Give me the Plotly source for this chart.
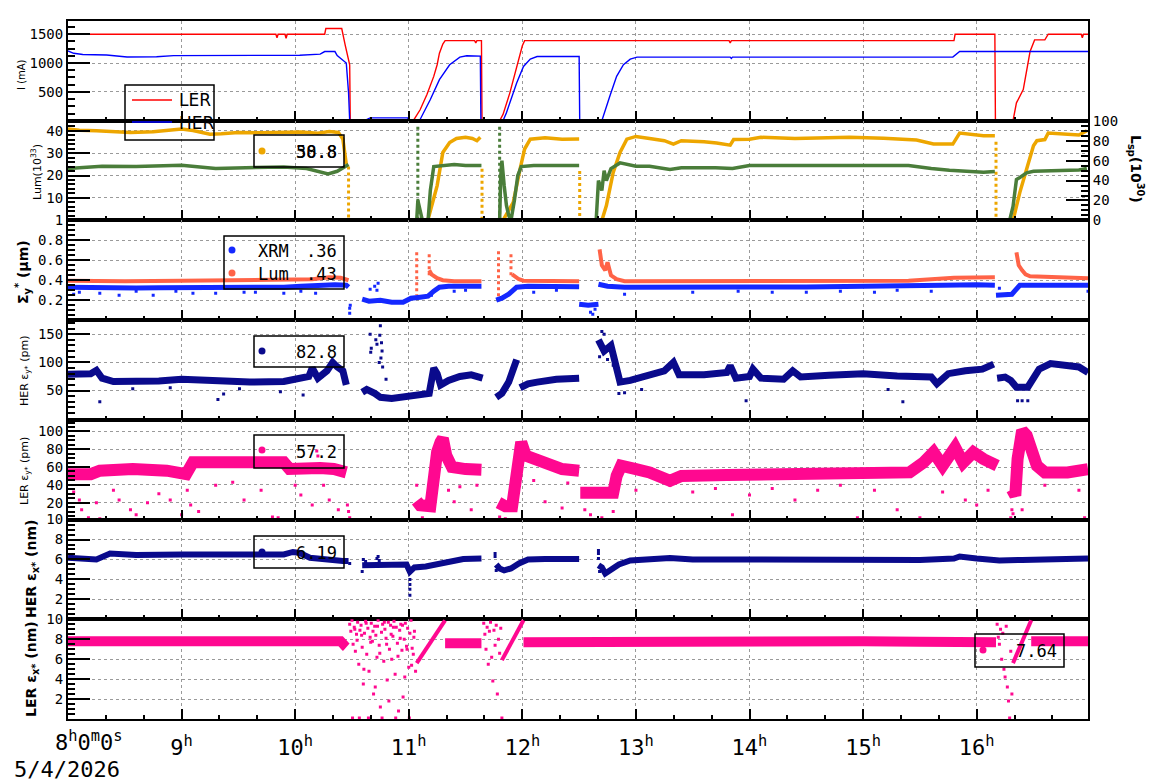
import plotly.graph_objects as go
from plotly.subplots import make_subplots

N = None

# ---------------- Panel 1 : beam currents (mA)
ler_t = [8.00, 9.83, 9.84, 9.85, 9.91, 9.92, 9.93, 10.26, 10.27, 10.41, 10.44, 10.47, 10.48, 10.485,
         11.04, 11.10, 11.16, 11.22, 11.25, 11.27, 11.30, 11.32, 11.58, 11.59, 11.60, 11.64, 11.645,
         11.80, 11.83, 11.89, 11.93, 11.98, 12.00, 12.02, 13.82, 13.83, 13.84, 15.80, 15.81, 16.16, 16.165,
         16.32, 16.35, 16.41, 16.44, 16.47, 16.51, 16.60, 16.63, 16.92, 16.93, 16.94, 16.98]
ler_i = [1500, 1500, 1440, 1500, 1500, 1430, 1500, 1500, 1600, 1600, 1315, 1086, 970, 0,
         0, 190, 453, 769, 971, 1172, 1330, 1390, 1390, 1350, 1390, 1390, 0,
         0, 109, 483, 769, 1172, 1300, 1390, 1390, 1350, 1390, 1390, 1500, 1500, 0,
         0, 310, 540, 884, 1200, 1402, 1402, 1500, 1500, 1440, 1500, 1500]
her_t = [8.00, 8.05, 8.13, 8.34, 8.52, 8.78, 8.93, 9.63, 10.04, 10.22, 10.26, 10.35, 10.37, 10.45, 10.47, 10.48,
         10.61, 10.66, 10.99, 11.00, 11.10, 11.19, 11.27, 11.36, 11.45, 11.51, 11.60, 11.63, 11.635,
         11.83, 11.86, 11.95, 12.01, 12.07, 12.13, 12.50, 12.505, 12.70, 12.77, 12.83, 12.89, 12.95, 13.01,
         13.83, 13.84, 13.85, 15.79, 15.85, 16.98]
her_i = [1210, 1170, 1150, 1140, 1105, 1110, 1130, 1130, 1135, 1155, 1200, 1200, 1130, 1000, 483, 0,
         0, 50, 50, 0, 22, 367, 712, 971, 1103, 1126, 1114, 1120, 0,
         0, 138, 655, 941, 1069, 1114, 1114, 0, 0, 424, 769, 971, 1069, 1103,
         1103, 1080, 1103, 1103, 1200, 1200]

# ---------------- Panel 2 : luminosity (left, 1e33) and specific luminosity (right, 1e30)
lum_t = [8.00, 8.10, 8.25, 8.40, 8.55, 8.75, 8.90, 9.00, 9.10, 9.25, 9.35, 9.50, 9.70, 9.90, 10.05, 10.20,
         10.30, 10.38, 10.42, 10.45, N,
         11.15, 11.17, 11.21, 11.25, 11.30, 11.36, 11.42, 11.50, 11.56, 11.60, 11.63, N,
         11.83, 11.86, 11.92, 11.98, 12.02, 12.07, 12.20, 12.35, 12.50, N,
         12.70, 12.74, 12.80, 12.86, 12.92, 13.00, 13.12, 13.25, 13.33, 13.40, 13.60, 13.71, 13.83, 13.86,
         14.00, 14.10, 14.40, 14.70, 14.88, 15.18, 15.47, 15.62, 15.79, 15.85, 16.06, 16.16, N,
         16.32, 16.38, 16.44, 16.50, 16.53, 16.60, 16.63, 16.75, 16.90, 16.97]
lum_v = [40.7, 40.2, 39.9, 39.5, 39.2, 39.5, 40.2, 40.7, 40.0, 38.4, 38.6, 39.2, 39.0, 39.2, 39.4, 38.8,
         39.6, 39.2, 36.2, 25.0, N,
         0.0, 0.5, 8.0, 15.5, 30.3, 34.7, 36.5, 37.0, 36.5, 35.5, 37.0, N,
         0.0, 2.5, 8.1, 22.9, 31.8, 36.2, 36.8, 36.2, 36.3, N,
         0.0, 6.6, 21.4, 30.3, 36.2, 37.4, 36.5, 35.5, 34.0, 35.5, 35.0, 34.5, 33.5, 36.0,
         36.2, 37.0, 36.5, 37.0, 37.0, 36.6, 35.8, 34.0, 34.0, 38.9, 37.7, 37.7, N,
         0.0, 12.5, 22.9, 33.2, 35.5, 36.0, 38.9, 38.4, 38.0, 39.9]
lum_drop_t = [10.47, 10.47, N, 11.645, 11.645, N, 12.505, 12.505, N, 16.17, 16.17]
lum_drop_v = [24, 0, N, 23, 0, N, 22, 0, N, 35, 0]

lsp_t = [8.00, 8.15, 8.30, 8.60, 9.00, 9.30, 9.60, 9.90, 10.10, 10.20, 10.29, 10.37, 10.43, 10.47, N, 10.48,
         11.07, 11.08, 11.10, 11.12, 11.17, 11.19, 11.22, 11.30, 11.40, 11.50, 11.64, N, 11.645,
         11.80, 11.81, 11.82, 11.84, 11.86, 11.88, 11.90, 11.93, 11.96, 11.99, 12.10, 12.30, 12.50, N, 12.505,
         12.65, 12.67, 12.70, 12.72, 12.74, 12.78, 12.86, 13.00, 13.12, 13.30, 13.40, 13.70, 13.85,
         14.00, 14.50, 15.00, 15.40, 15.60, 15.76, 16.06, 16.16, N, 16.165,
         16.29, 16.32, 16.35, 16.38, 16.44, 16.50, 16.70, 16.90, 16.97]
lsp_v = [52, 53.5, 54.3, 54, 55.3, 52, 53, 53.7, 52, 49.3, 46.7, 49.3, 53, 56, N, 0,
         0, 20, 8, 0, 0, 30, 54, 55, 56, 55, 55, N, 0,
         0, 45, 60, 35, 15, 5, 0, 20, 45, 54, 55, 55, 55, N, 0,
         0, 40, 30, 50, 40, 52, 57.7, 54.3, 54.3, 51, 52.7, 52.7, 52,
         55, 55, 55, 55, 52, 50.3, 48.3, 49, N, 0,
         0, 14, 41, 43, 47.7, 49.3, 50, 50.5, 52]
lsp_spike_t = [11.08, 11.08, N, 11.80, 11.80]
lsp_spike_v = [94, 0, N, 94, 0]

# ---------------- Panel 3 : vertical beam size (um)
xrm_t = [8.00, 8.20, 8.40, 8.60, 8.80, 9.00, 9.30, 9.60, 9.90, 10.05, 10.20, 10.35, 10.45, 10.47, N,
         10.59, 10.65, 10.75, 10.85, 10.95, 10.99, 11.02, 11.10, 11.17, 11.22, 11.27, 11.35, 11.50, 11.64, N,
         11.77, 11.82, 11.88, 11.95, 12.05, 12.30, 12.50, N,
         12.50, 12.58, 12.67, N,
         12.67, 12.75, 12.90, 13.20, 13.60, 14.00, 14.50, 15.00, 15.50, 15.70, 16.00, 16.16, N,
         16.17, 16.25, 16.31, 16.38, 16.60, 16.80, 16.98]
xrm_v = [0.33, 0.325, 0.32, 0.322, 0.325, 0.325, 0.322, 0.325, 0.33, 0.34, 0.35, 0.355, 0.35, 0.33, N,
         0.21, 0.19, 0.20, 0.18, 0.18, 0.20, 0.22, 0.23, 0.24, 0.29, 0.33, 0.34, 0.335, 0.34, N,
         0.20, 0.22, 0.26, 0.33, 0.34, 0.335, 0.335, N,
         0.16, 0.15, 0.16, N,
         0.36, 0.34, 0.33, 0.333, 0.333, 0.333, 0.333, 0.335, 0.34, 0.35, 0.355, 0.35, N,
         0.25, 0.25, 0.26, 0.35, 0.355, 0.35, 0.35]
xrm_out_t = [8.05, 8.10, 8.28, 8.45, 8.60, 8.75, 8.95, 9.10, 9.30, 9.55, 9.65, 9.90, 10.05, 10.18, 10.48,
             10.48, 10.485, 10.66, 10.70, 10.73, 10.72, 11.20, 11.40, 11.50, 12.10, 12.30, 12.60, 12.62,
             12.64, 12.90, 13.50, 13.90, 14.20, 14.50, 14.80, 15.10, 15.30, 15.60, 16.20, 16.98]
xrm_out_v = [0.26, 0.28, 0.27, 0.25, 0.29, 0.25, 0.29, 0.27, 0.27, 0.28, 0.28, 0.27, 0.29, 0.27, 0.12,
             0.07, 0.15, 0.31, 0.34, 0.37, 0.30, 0.25, 0.29, 0.30, 0.28, 0.30, 0.08, 0.06,
             0.11, 0.26, 0.28, 0.29, 0.28, 0.28, 0.29, 0.28, 0.30, 0.29, 0.32, 0.29]
lsz_t = [8.00, 8.50, 9.00, 9.50, 10.00, 10.15, 10.30, 10.40, 10.47, N,
         11.18, 11.20, 11.25, 11.30, 11.40, 11.50, 11.64, N,
         11.91, 11.94, 11.97, 12.01, 12.20, 12.50, N,
         12.68, 12.70, 12.73, 12.75, 12.78, 12.83, 12.90, 13.50, 14.50, 15.40, 15.60, 15.80, 16.16, N,
         16.35, 16.37, 16.40, 16.43, 16.47, 16.70, 16.98]
lsz_v = [0.395, 0.39, 0.395, 0.40, 0.40, 0.41, 0.43, 0.425, 0.40, N,
         0.50, 0.46, 0.42, 0.40, 0.39, 0.39, 0.39, N,
         0.46, 0.43, 0.41, 0.395, 0.39, 0.39, N,
         0.71, 0.55, 0.50, 0.58, 0.45, 0.41, 0.39, 0.39, 0.39, 0.395, 0.41, 0.425, 0.43, N,
         0.68, 0.55, 0.50, 0.46, 0.44, 0.435, 0.42]
lsz_spike_t = [11.07, 11.07, N, 11.18, 11.18, N, 11.79, 11.79, N, 11.90, 11.90]
lsz_spike_v = [0.68, 0.25, N, 0.66, 0.45, N, 0.69, 0.19, N, 0.66, 0.45]

# ---------------- Panel 4 : HER vertical emittance (pm)
hey_t = [8.00, 8.10, 8.20, 8.25, 8.30, 8.40, 8.60, 8.80, 9.00, 9.30, 9.60, 9.90, 10.05, 10.12, 10.15, 10.20,
         10.28, 10.33, 10.37, 10.42, 10.45, N,
         10.59, 10.63, 10.70, 10.75, 10.85, 10.95, 11.00, 11.10, 11.18, 11.22, 11.25, 11.28, 11.35, 11.45,
         11.55, 11.65, N,
         11.77, 11.82, 11.88, 11.93, 11.95, N, 11.98, 12.05, 12.13, 12.30, 12.50, N,
         12.67, 12.72, 12.78, 12.82, 12.86, 12.95, 13.10, 13.25, 13.33, 13.38, 13.60, 13.80, 13.83, 13.88,
         14.00, 14.03, 14.10, 14.30, 14.38, 14.45, 14.70, 15.00, 15.30, 15.60, 15.65, 15.75, 15.90, 16.05,
         16.15, N,
         16.18, 16.25, 16.30, 16.35, 16.45, 16.50, 16.55, 16.65, 16.80, 16.90, 16.98]
hey_v = [79, 78, 80, 86, 72, 66, 66, 67, 70, 66, 65, 66, 70, 75, 90, 72,
         85, 100, 92, 85, 60, N,
         47, 52, 45, 38, 36, 38, 40, 42, 45, 90, 80, 60, 68, 75,
         78, 72, N,
         38, 45, 65, 90, 105, N, 55, 62, 65, 70, 72, N,
         140, 120, 130, 90, 65, 68, 75, 85, 100, 78, 78, 82, 94, 72,
         75, 88, 72, 70, 85, 74, 77, 80, 76, 74, 62, 80, 85, 88,
         97, N,
         72, 74, 68, 56, 56, 70, 88, 98, 95, 92, 82]
hey_out_t = [8.28, 8.57, 8.90, 9.32, 9.37, 9.51, 9.87, 10.07, 10.66, 10.67, 10.665, 10.71, 10.72, 10.75,
             10.745, 10.76, 10.765, 10.755, 10.77, 10.74, 10.80, 12.70, 12.72, 12.75, 12.68, 12.80, 12.85,
             12.90, 13.05, 13.97, 15.22, 15.35, 16.36, 16.40, 16.45]
hey_out_v = [30, 53, 55, 34, 44, 53, 48, 42, 150, 125, 118, 140, 132, 165,
             148, 135, 120, 108, 92, 100, 70, 155, 150, 105, 110, 95, 45,
             46, 52, 32, 52, 30, 32, 32, 32]

# ---------------- Panel 5 : LER vertical emittance (pm)
ley_t = [8.00, 8.20, 8.28, 8.57, 8.87, 9.04, 9.10, 9.31, 9.60, 9.90, 9.95, 10.10, 10.19, 10.22, 10.34, 10.45, N,
         11.07, 11.10, 11.19, 11.21, 11.25, 11.28, 11.30, 11.33, 11.38, 11.50, 11.64, N,
         11.79, 11.85, 11.91, 11.93, 11.96, 11.99, 12.03, 12.15, 12.35, 12.50, N,
         12.51, 12.65, 12.80, 12.83, 12.87, 13.00, 13.12, 13.30, 13.40, 13.80, 14.20, 14.60, 15.00, 15.41,
         15.53, 15.62, 15.70, 15.81, 15.88, 15.97, 16.06, 16.18, N,
         16.31, 16.34, 16.36, 16.40, 16.44, 16.48, 16.53, 16.60, 16.80, 16.98]
ley_v = [52, 52, 55.9, 57.8, 55.9, 52, 65.3, 65.3, 63.4, 65.3, 57.8, 59, 61.5, 59, 57.8, 54, N,
         22, 17, 16, 39, 77, 88, 92, 73, 60, 57.7, 57, N,
         20, 16, 16, 31, 65, 88, 72.8, 67, 57.7, 55.8, N,
         31, 31, 31, 50, 61.5, 57.7, 54, 44.5, 50, 51, 51, 52, 52, 54,
         65, 76.7, 61.5, 82, 65, 76.7, 69, 61.5, N,
         35, 28, 69, 101, 95.5, 76.7, 61.5, 54, 54, 57.7]
ley_out_t = [8.05, 8.10, 8.12, 8.18, 8.25, 8.28, 8.40, 8.45, 8.55, 8.60,
             8.70, 8.80, 8.90, 9.00, 9.05, 9.08, 9.15, 9.30, 9.45, 9.55,
             9.70, 9.80, 9.85, 10.00, 10.05, 10.15, 10.19, 10.20, 10.25, 10.30,
             10.38, 10.46, 10.47, 10.48,
             11.07, 11.12, 11.20, 11.35, 11.40, 11.45, 11.55, 11.60, 11.80, 11.85,
             12.10, 12.20, 12.35, 12.40, 12.55, 12.60, 12.70, 12.80, 13.00, 13.30,
             13.50, 13.70, 13.85, 14.00, 14.20, 14.40, 14.60, 14.80, 14.95, 15.10,
             15.30, 15.50, 15.70, 15.90, 16.00, 16.10, 16.30, 16.31, 16.32, 16.40,
             16.60, 16.90, 16.95]
ley_out_v = [32, 23, 12, 3, 20, 2, 34, 23, 12, 6.5,
             20, 30, 23, 6.5, 34, 17.5, 10, 39.5, 43, 23,
             34, 4, 3, 39.5, 28.5, 17.5, 78, 72.5, 39.5, 23,
             12, 17.5, 10, 3,
             39.5, 3, 28.5, 34, 21, 38, 12, 39.5, 4, 2,
             45, 21, 14, 42, 12, 6.5, 3, 10, 34, 39.5,
             32, 36, 6.5, 28.5, 36, 23, 34, 39.5, 3, 34,
             12, 3, 32, 23, 17.5, 34, 3, 12, 7.5, 12,
             39.5, 34, 3]

# ---------------- Panel 6 : HER horizontal emittance (nm)
hex_t = [8.00, 8.25, 8.37, 8.60, 9.00, 9.16, 9.50, 9.90, 9.98, 10.04, 10.13, 10.25, 10.42, 10.47, N,
         10.59, 10.75, 10.90, 10.98, 11.01, 11.05, 11.15, 11.25, 11.35, 11.48, 11.64, N,
         11.77, 11.80, 11.84, 11.90, 11.97, 12.05, 12.20, 12.50, N,
         12.67, 12.70, 12.73, 12.78, 12.85, 12.95, 13.10, 13.30, 13.50, 14.00, 14.50, 15.00, 15.50, 15.80,
         15.85, 16.00, 16.20, 16.40, 16.60, 16.80, 16.98]
hex_v = [6.17, 6.0, 6.6, 6.45, 6.5, 6.5, 6.5, 6.5, 6.75, 6.65, 6.17, 6.0, 5.85, 5.85, N,
         5.43, 5.4, 5.45, 5.5, 4.77, 5.2, 5.3, 5.5, 5.8, 6.05, 6.1, N,
         5.5, 5.1, 4.9, 5.1, 5.6, 6.0, 6.05, 6.05, N,
         5.43, 5.2, 4.6, 5.0, 5.5, 5.9, 6.05, 6.15, 6.0, 5.95, 5.95, 5.95, 5.95, 6.1,
         6.3, 6.1, 5.9, 5.95, 6.05, 6.0, 6.1]
hex_out_t = [10.48, 10.59, 10.60, 10.62, 10.72, 10.73, 10.74, 11.01, 11.01, 11.01, 11.01, 11.76, 11.76,
             11.77, 12.67, 12.67, 12.67, 12.68]
hex_out_v = [5.6, 4.8, 6.0, 5.8, 6.1, 6.3, 5.9, 4.0, 3.5, 2.4, 3.0, 6.6, 6.3,
             4.9, 6.6, 6.9, 6.1, 4.8]

# ---------------- Panel 7 : LER horizontal emittance (nm)
lex_t = [8.00, 8.50, 9.00, 9.50, 10.00, 10.40, 10.44, 10.45, N,
         11.32, 11.45, 11.64, N,
         12.01, 12.50, 13.00, 13.50, 14.00, 14.50, 15.00, 15.50, 16.00, 16.17, N,
         16.48, 16.70, 16.98]
lex_v = [7.8, 7.85, 7.8, 7.8, 7.85, 7.8, 7.3, 7.2, N,
         7.6, 7.6, 7.6, N,
         7.7, 7.75, 7.75, 7.8, 7.75, 7.75, 7.8, 7.75, 7.8, 7.7, N,
         7.8, 7.75, 7.8]
lex_ramp_t = [11.07, 11.32, N, 11.82, 12.01, N, 16.32, 16.48]
lex_ramp_v = [5.6, 9.9, N, 5.9, 9.9, N, 5.6, 9.9]
lex_sc_t = [10.48, 10.49, 10.50, 10.51, 10.52, 10.53, 10.54, 10.55, 10.56, 10.57,
            10.58, 10.59, 10.60, 10.61, 10.62, 10.63, 10.64, 10.65, 10.66, 10.67,
            10.68, 10.69, 10.70, 10.71, 10.72, 10.73, 10.74, 10.75, 10.76, 10.77,
            10.78, 10.79, 10.80, 10.81, 10.82, 10.83, 10.84, 10.85, 10.86, 10.87,
            10.88, 10.89, 10.90, 10.91, 10.92, 10.93, 10.94, 10.95, 10.96, 10.97,
            10.98, 10.99, 11.00, 11.01, 11.02, 11.03, 11.04, 11.05, 11.06, 10.505,
            10.525, 10.545, 10.565, 10.585, 10.605, 10.625, 10.645, 10.665, 10.685, 10.705,
            10.725, 10.745, 10.765, 10.785, 10.805, 10.825, 10.845, 10.865, 10.885, 10.905,
            10.925, 10.945, 10.965, 10.985, 11.005, 11.025, 11.045,
            11.66, 11.67, 11.68, 11.69, 11.70, 11.71, 11.72, 11.73, 11.74, 11.75,
            11.76, 11.77, 11.78, 11.79, 11.80, 11.81, 11.82,
            16.18, 16.19, 16.20, 16.21, 16.22, 16.23, 16.24, 16.25, 16.26, 16.27,
            16.28, 16.29, 16.30, 16.31]
lex_sc_v = [9.5, 8.8, 9.9, 7.5, 9.2, 6.8, 8.5, 9.7, 5.5, 8.9,
            9.4, 7.2, 3.5, 8.6, 9.8, 6.5, 9.1, 4.8, 8.2, 9.6,
            7.8, 2.5, 9.3, 8.4, 6.2, 9.9, 7.4, 1.2, 8.7, 9.5,
            5.8, 9.0, 8.1, 3.9, 9.7, 7.0, 9.4, 6.0, 8.3, 9.8,
            4.5, 9.2, 7.6, 0.8, 8.9, 9.5, 6.9, 2.2, 8.0, 9.6,
            7.3, 9.1, 5.2, 8.6, 9.9, 7.1, 6.5, 8.8, 4.8, 0.1,
            9.0, 7.9, 0.1, 8.4, 5.0, 9.6, 0.1, 7.7, 8.8, 3.2,
            9.3, 6.6, 0.1, 9.7, 7.5, 1.8, 8.5, 9.2, 0.1, 6.3,
            8.1, 9.4, 4.2, 7.0, 0.1, 5.4, 8.2,
            9.6, 8.5, 7.0, 9.2, 5.5, 8.8, 9.7, 6.2, 3.8, 8.9,
            7.4, 9.4, 2.5, 8.0, 6.6, 9.1, 0.1,
            9.5, 8.2, 7.5, 9.0, 6.0, 8.6, 5.0, 4.2, 9.3, 3.2,
            1.8, 0.1, 6.8, 2.5]

# ---------------- axis ticks / labels
hour_ticks = [8, 9, 10, 11, 12, 13, 14, 15, 16]
hour_text = ["", "9<sup>h</sup>", "10<sup>h</sup>", "11<sup>h</sup>", "12<sup>h</sup>",
             "13<sup>h</sup>", "14<sup>h</sup>", "15<sup>h</sup>", "16<sup>h</sup>"]
start_label = "8<sup>h</sup>0<sup>m</sup>0<sup>s</sup>"
date_label = "5/4/2026"
legend_values = {"lum": ["38.8", "50.8"], "xrm": ".36", "lumsz": ".43",
                 "hey": "82.8", "ley": "57.2", "hex": "6.19", "lex": "7.64"}

for a, b in [(ler_t, ler_i), (her_t, her_i), (lum_t, lum_v), (lsp_t, lsp_v), (xrm_t, xrm_v),
             (xrm_out_t, xrm_out_v), (lsz_t, lsz_v), (hey_t, hey_v), (hey_out_t, hey_out_v),
             (ley_t, ley_v), (ley_out_t, ley_out_v), (hex_t, hex_v), (hex_out_t, hex_out_v),
             (lex_t, lex_v), (lex_sc_t, lex_sc_v)]:
    assert len(a) == len(b), (len(a), len(b), a[:3])

# ---------------- colours
RED, BLUE = "#ff0000", "#0000ff"
ORANGE, GREEN = "#eda600", "#4a7d3a"
XBLUE, TOMATO = "#1428ff", "#ff6347"
NAVY, PINK = "#0a0a8c", "#ff0890"
MONO = "DejaVu Sans Mono"

W, H = 1160, 782
PL, PR, PT, PB = 68, 1088, 21, 719


def xp(px):
    return (px - PL) / (PR - PL)


def yp(py):
    return (PB - py) / (PB - PT)


fig = make_subplots(rows=7, cols=1, shared_xaxes=True, vertical_spacing=0,
                    specs=[[{}], [{"secondary_y": True}], [{}], [{}], [{}], [{}], [{}]])


def add_line(t, v, color, width, row, dash=None, sec=None):
    tr = go.Scatter(x=t, y=v, mode="lines", connectgaps=False, showlegend=False, hoverinfo="skip",
                    line=dict(color=color, width=width, dash=dash))
    if sec is None:
        fig.add_trace(tr, row=row, col=1)
    else:
        fig.add_trace(tr, row=row, col=1, secondary_y=sec)


def add_dots(t, v, color, row, size=3):
    fig.add_trace(go.Scatter(x=t, y=v, mode="markers", showlegend=False, hoverinfo="skip",
                             marker=dict(color=color, size=size, symbol="square", line=dict(width=0))),
                  row=row, col=1)


# panel 1
add_line(ler_t, ler_i, RED, 1.4, 1)
add_line(her_t, her_i, BLUE, 1.4, 1)
# panel 2
add_line(lsp_t, lsp_v, GREEN, 3.5, 2, sec=True)
add_line(lsp_spike_t, lsp_spike_v, GREEN, 3, 2, dash="dot", sec=True)
add_line(lum_t, lum_v, ORANGE, 3.5, 2, sec=False)
add_line(lum_drop_t, lum_drop_v, ORANGE, 3, 2, dash="dot", sec=False)
# panel 3
add_line(lsz_t, lsz_v, TOMATO, 4, 3)
add_line(lsz_spike_t, lsz_spike_v, TOMATO, 3, 3, dash="dot")
add_line(xrm_t, xrm_v, XBLUE, 5, 3)
add_dots(xrm_out_t, xrm_out_v, XBLUE, 3)
# panel 4
add_line(hey_t, hey_v, NAVY, 7, 4)
add_dots(hey_out_t, hey_out_v, NAVY, 4)
# panel 5
add_line(ley_t, ley_v, PINK, 12, 5)
add_dots(ley_out_t, ley_out_v, PINK, 5)
# panel 6
add_line(hex_t, hex_v, NAVY, 6, 6)
add_dots(hex_out_t, hex_out_v, NAVY, 6)
# panel 7
add_line(lex_t, lex_v, PINK, 10, 7)
add_line(lex_ramp_t, lex_ramp_v, PINK, 4, 7)
add_dots(lex_sc_t, lex_sc_v, PINK, 7)

# ---------------- axes
minor_x = [8 + i / 3 for i in range(27) if i % 3 != 0]
grid = dict(showgrid=True, gridcolor="#9a9a9a", griddash="dot", gridwidth=1)
for r in range(1, 8):
    fig.update_xaxes(row=r, col=1, domain=[0, 1], range=[8, 16.98], showline=True, linecolor="black",
                     linewidth=2, mirror=True, ticks="inside", ticklen=10, tickwidth=2, tickcolor="black",
                     tickmode="array", tickvals=hour_ticks, ticktext=hour_text, zeroline=False,
                     minor=dict(tickmode="array", tickvals=minor_x, ticks="inside", ticklen=4,
                                tickwidth=1.5, tickcolor="black", showgrid=False),
                     showticklabels=(r == 7), tickfont=dict(family=MONO, size=22, color="black"),
                     ticklabelstandoff=8, **grid)

yconf = [
    dict(range=[0, 1730], tickvals=[500, 1000, 1500], ticktext=["500", "1000", "1500"], minor=125),
    dict(range=[0, 44.4], tickvals=[10, 20, 30, 40], ticktext=["10", "20", "30", "40"], minor=2),
    dict(range=[0, 1], tickvals=[0.2, 0.4, 0.6, 0.8, 1.0], ticktext=["0.2", "0.4", "0.6", "0.8", "1"], minor=0.05),
    dict(range=[-2, 175], tickvals=[50, 100, 150], ticktext=["50", "100", "150"], minor=10),
    dict(range=[1, 113], tickvals=[20, 40, 60, 80, 100], ticktext=["20", "40", "60", "80", "100"], minor=5),
    dict(range=[0, 10], tickvals=[2, 4, 6, 8, 10], ticktext=["2", "4", "6", "8", "10"], minor=0.5),
    dict(range=[0, 10], tickvals=[2, 4, 6, 8, 10], ticktext=["2", "4", "6", "8", "10"], minor=0.5),
]
for r, c in enumerate(yconf, start=1):
    kw = dict(row=r, col=1, range=c["range"], tickmode="array", tickvals=c["tickvals"],
              ticktext=c["ticktext"], showline=True, linecolor="black", linewidth=2,
              mirror=(r != 2), ticks="inside", ticklen=22, tickwidth=2, tickcolor="black",
              zeroline=False, tickfont=dict(family=MONO, size=14, color="black"),
              minor=dict(dtick=c["minor"], tick0=0, ticks="inside", ticklen=7, tickwidth=1.5,
                         tickcolor="black", showgrid=False), **grid)
    if r == 2:
        fig.update_yaxes(secondary_y=False, **kw)
    else:
        fig.update_yaxes(**kw)

fig.update_yaxes(row=2, col=1, secondary_y=True, range=[0, 100], tickmode="array",
                 tickvals=[0, 20, 40, 60, 80, 100], ticktext=["0", "20", "40", "60", "80", "100"],
                 showline=True, linecolor="black", linewidth=2, ticks="inside", ticklen=22,
                 tickwidth=2, tickcolor="black", showgrid=False, zeroline=False,
                 tickfont=dict(family=MONO, size=14, color="black"),
                 minor=dict(dtick=5, tick0=0, ticks="inside", ticklen=7, tickwidth=1.5,
                            tickcolor="black", showgrid=False))

# ---------------- annotations (axis titles, legends, time labels)
ann = []
shapes = []


def text(px, py, s, size, xanchor="center", yanchor="middle", angle=0, family="DejaVu Sans", color="black"):
    ann.append(dict(x=xp(px), y=yp(py), xref="paper", yref="paper", text=s, showarrow=False,
                    xanchor=xanchor, yanchor=yanchor, textangle=angle,
                    font=dict(family=family, size=size, color=color)))


def box(x0, y0, x1, y1):
    shapes.append(dict(type="rect", xref="paper", yref="paper", x0=xp(x0), x1=xp(x1), y0=yp(y0),
                       y1=yp(y1), line=dict(color="black", width=1.5), fillcolor="rgba(0,0,0,0)"))


def dot(px, py, color, r=3.5):
    shapes.append(dict(type="circle", xref="paper", yref="paper", x0=xp(px - r), x1=xp(px + r),
                       y0=yp(py + r), y1=yp(py - r), line=dict(width=0), fillcolor=color))


def hline(x0, x1, y, color):
    shapes.append(dict(type="line", xref="paper", yref="paper", x0=xp(x0), x1=xp(x1), y0=yp(y),
                       y1=yp(y), line=dict(color=color, width=1.5)))


# y axis titles
text(22, 75, "I (mA)", 10, angle=-90)
text(36, 172, "Lum(10<sup>33</sup>)", 11, angle=-90)
text(23, 272, "<b>Σ<sub>y</sub><sup>*</sup> (μm)</b>", 14, angle=-90)
text(25, 371, "HER ε<sub>y*</sub> (pm)", 11, angle=-90)
text(25, 471, "LER ε<sub>y*</sub> (pm)", 11, angle=-90)
text(32, 569, "<b>HER ε<sub>x*</sub> (nm)</b>", 14, angle=-90)
text(32, 669, "<b>LER ε<sub>x*</sub> (nm)</b>", 14, angle=-90)
text(1136, 169, "<b>L<sub>sp</sub>(10<sup>30</sup>)</b>", 14, angle=90)

# x labels
text(89, 741, start_label, 22, family=MONO)
text(12, 769, date_label, 22, xanchor="left", family=MONO)

# legend panel 1
box(125, 85, 214, 140)
hline(132, 172, 100, RED)
hline(132, 172, 122, BLUE)
text(177, 100, "LER", 17, xanchor="left")
text(177, 123, "HER", 17, xanchor="left")
# legend panel 2
box(254, 135, 344, 167)
dot(262, 151, ORANGE)
for s in legend_values["lum"]:
    text(339, 152, s, 17, xanchor="right", family=MONO)
# legend panel 3
box(224, 236, 344, 289)
dot(232, 250, XBLUE)
dot(232, 273, TOMATO)
text(256, 251, "XRM", 17, xanchor="left", family=MONO)
text(339, 251, legend_values["xrm"], 17, xanchor="right", family=MONO)
text(256, 274, "Lum", 17, xanchor="left", family=MONO)
text(339, 274, legend_values["lumsz"], 17, xanchor="right", family=MONO)
# legend panel 4-7
box(254, 336, 344, 367)
dot(262, 351, NAVY)
text(339, 352, legend_values["hey"], 17, xanchor="right", family=MONO)
box(254, 435, 344, 468)
dot(262, 450, PINK)
text(339, 452, legend_values["ley"], 17, xanchor="right", family=MONO)
box(254, 536, 344, 568)
dot(262, 552, NAVY)
text(339, 553, legend_values["hex"], 17, xanchor="right", family=MONO)
box(975, 634, 1064, 667)
dot(983, 650, PINK)
text(1059, 651, legend_values["lex"], 17, xanchor="right", family=MONO)

fig.update_layout(width=W, height=H, margin=dict(l=PL, r=W - PR, t=PT, b=H - PB),
                  paper_bgcolor="white", plot_bgcolor="white", showlegend=False,
                  font=dict(family=MONO, color="black"), annotations=ann, shapes=shapes)

fig.write_html("out.html")
